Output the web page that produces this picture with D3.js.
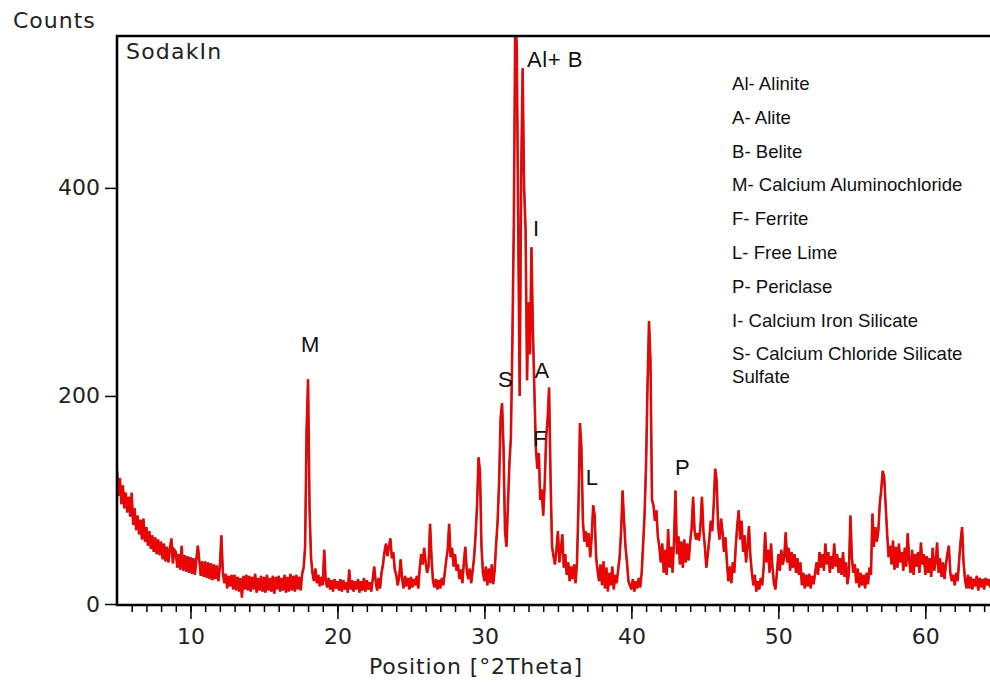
<!DOCTYPE html>
<html>
<head>
<meta charset="utf-8">
<script src="https://cdn.jsdelivr.net/npm/d3@7"></script>
<style>
  html, body { margin: 0; padding: 0; background: #fff; }
  #chart { width: 990px; height: 682px; }
</style>
</head>
<body>
<div id="chart"></div>
<script>
// scan: 5.0 .. 64.4 deg 2theta, 0.1 deg step
const startDeg = 5.0;
const stepDeg = 0.1;
const counts = [
  128,104,121,96,114,92,107,88,103,84,
  107,76,92,71,85,67,81,62,82,60,
  74,56,70,53,66,50,64,48,62,47,
  60,43,58,41,55,40,53,63,39,52,
  50,35,48,33,56,32,47,31,46,30,
  45,29,44,28,43,56,42,27,41,26,
  41,25,40,24,39,23,38,24,37,22,
  36,66,31,20,29,15,27,17,28,14,
  28,13,26,12,25,6,27,14,28,13,
  27,12,26,14,29,11,25,13,27,12,
  26,11,28,13,25,12,27,10,26,14,
  27,12,25,13,28,11,26,12,29,13,
  27,12,28,14,26,13,29,35,55,167,
  216,92,45,30,22,34,20,28,17,26,
  18,52,22,16,25,14,23,12,24,15,
  22,13,24,12,23,14,21,11,33,14,
  23,12,22,14,24,11,22,13,25,12,
  23,14,21,12,24,36,22,13,25,15,
  30,38,50,58,46,55,63,44,50,33,
  28,18,26,43,24,15,27,17,25,14,
  26,16,24,18,27,15,35,48,38,54,
  40,30,36,77,45,22,16,24,14,23,
  15,25,18,30,42,52,77,45,54,36,
  48,32,38,24,33,20,40,55,32,24,
  34,20,32,45,67,95,141,127,55,30,
  22,36,18,34,20,38,19,33,58,80,
  118,178,193,150,70,55,95,135,160,250,
  365,565,536,363,200,410,515,400,360,215,
  290,240,343,262,205,150,130,145,100,110,
  85,115,160,178,208,120,55,46,38,52,
  70,40,52,67,35,48,28,40,22,36,
  24,38,20,40,95,174,150,80,60,70,
  55,68,45,65,95,85,45,32,22,38,
  18,41,15,35,12,30,18,36,14,28,
  20,33,45,70,109,80,55,40,22,18,
  14,24,12,22,15,25,16,30,58,87,
  135,212,272,232,100,95,80,90,65,55,
  40,58,30,52,28,72,35,55,30,60,
  109,48,65,38,60,35,62,40,58,42,
  60,73,103,70,62,68,61,75,103,70,
  55,35,48,62,80,70,95,130,119,75,
  62,82,69,50,64,40,22,36,20,40,
  30,55,75,90,62,80,50,66,40,55,
  75,45,30,18,28,12,22,14,25,18,
  35,69,40,52,30,58,35,20,14,30,
  48,32,52,38,45,69,40,54,32,50,
  35,48,30,44,28,40,18,30,15,28,
  17,29,15,27,19,30,40,28,50,35,
  48,32,58,38,50,30,46,34,58,36,
  48,30,44,28,50,26,40,19,30,85,
  45,30,38,20,34,16,30,18,28,15,
  30,19,35,28,87,55,74,60,70,96,
  110,128,122,95,68,45,56,38,61,33,
  55,35,58,40,50,32,54,36,68,42,
  30,52,28,48,36,50,30,59,38,48,
  28,46,30,44,26,54,32,40,59,30,
  44,26,40,24,38,48,56,30,22,28,
  18,30,22,42,60,74,40,24,15,28,
  15,26,14,24,17,27,13,25,16,24,
  14,25,18,24,16
];

const xMajorTicks = [10, 20, 30, 40, 50, 60];
const yTicks = [0, 200, 400];

const peakNames = ['Al+ B', 'I', 'S', 'A', 'M', 'F', 'L', 'P'];
const peakDeg   = [32.89, 33.3, 30.92, 33.4, 17.52, 33.3, 36.9, 42.96];
const peakCount = [516, 354, 209, 217, 242, 152, 114, 124];

const legendLines = [
  'Al- Alinite',
  'A- Alite',
  'B- Belite',
  'M- Calcium Aluminochloride',
  'F- Ferrite',
  'L- Free Lime',
  'P- Periclase',
  'I- Calcium Iron Silicate',
  'S- Calcium Chloride Silicate'
];

const W = 990, H = 682;
const plot = { left: 117, top: 36, right: 990, bottom: 604 };

const svg = d3.select('#chart').append('svg')
  .attr('width', W)
  .attr('height', H)
  .style('display', 'block');

const x = d3.scaleLinear().domain([5, 64.4]).range([plot.left, plot.right]);
const y = d3.scaleLinear().domain([0, 546]).range([plot.bottom, plot.top]);

const axisFont = '"DejaVu Sans", sans-serif';
const labelFont = '"Liberation Sans", Arial, sans-serif';

svg.append('defs').append('clipPath').attr('id', 'clip')
  .append('rect')
  .attr('x', plot.left)
  .attr('y', plot.top)
  .attr('width', plot.right - plot.left)
  .attr('height', plot.bottom - plot.top);

// pattern: dark edge under a red core
const line = d3.line()
  .x((d, i) => x(startDeg + i * stepDeg))
  .y(d => y(d));

const pattern = svg.append('g').attr('clip-path', 'url(#clip)');
pattern.append('path')
  .datum(counts)
  .attr('fill', 'none')
  .attr('stroke', '#b02828')
  .attr('stroke-width', 2.6)
  .attr('stroke-linejoin', 'miter')
  .attr('d', line);
pattern.append('path')
  .datum(counts)
  .attr('fill', 'none')
  .attr('stroke', '#f20000')
  .attr('stroke-width', 1.6)
  .attr('stroke-linejoin', 'miter')
  .attr('d', line);

// x axis with 1 deg minor ticks
const xAxisG = svg.append('g').attr('transform', `translate(0,${plot.bottom + 1})`);
xAxisG.call(d3.axisBottom(x).tickValues(d3.range(6, 65, 1)).tickSize(7).tickFormat(''))
  .call(g => g.select('.domain').remove());
xAxisG.append('g')
  .call(d3.axisBottom(x).tickValues(xMajorTicks).tickSize(14).tickPadding(9).tickFormat(d3.format('d')))
  .call(g => g.select('.domain').remove())
  .call(g => g.selectAll('text')
    .attr('font-family', axisFont)
    .attr('font-size', 22)
    .attr('fill', '#222'));
xAxisG.selectAll('line').attr('stroke', '#000').attr('stroke-width', 1.5);

// y axis
const yAxisG = svg.append('g').attr('transform', `translate(${plot.left},0)`);
yAxisG.call(d3.axisLeft(y).tickValues(yTicks).tickSize(12).tickPadding(5).tickFormat(d3.format('d')))
  .call(g => g.select('.domain').remove())
  .call(g => g.selectAll('line').attr('stroke', '#000').attr('stroke-width', 1.5))
  .call(g => g.selectAll('text')
    .attr('font-family', axisFont)
    .attr('font-size', 22)
    .attr('fill', '#222'));

// frame: left, top, bottom
svg.append('path')
  .attr('d', `M${plot.right + 5},${plot.top} H${plot.left} V${plot.bottom + 1} H${plot.right + 5}`)
  .attr('fill', 'none')
  .attr('stroke', '#000')
  .attr('stroke-width', 2.6);

// titles
svg.append('text')
  .attr('x', 13).attr('y', 28)
  .attr('font-family', axisFont).attr('font-size', 22)
  .attr('letter-spacing', 1)
  .attr('fill', '#222')
  .text('Counts');

svg.append('text')
  .attr('x', 476).attr('y', 674)
  .attr('text-anchor', 'middle')
  .attr('font-family', axisFont).attr('font-size', 22)
  .attr('letter-spacing', 0.9)
  .attr('fill', '#222')
  .text('Position [°2Theta]');

svg.append('text')
  .attr('x', 126).attr('y', 59)
  .attr('font-family', axisFont).attr('font-size', 22)
  .attr('letter-spacing', 1.2)
  .attr('fill', '#222')
  .text('SodakIn');

// phase labels on peaks
svg.append('g').selectAll('text')
  .data(peakNames)
  .join('text')
  .attr('x', (d, i) => x(peakDeg[i]))
  .attr('y', (d, i) => y(peakCount[i]))
  .attr('font-family', labelFont)
  .attr('font-size', 22)
  .attr('letter-spacing', 0.6)
  .attr('fill', '#111')
  .text(d => d);

// legend
const legend = svg.append('g')
  .attr('font-family', labelFont)
  .attr('font-size', 18.6)
  .attr('fill', '#111');
legend.selectAll('text')
  .data(legendLines)
  .join('text')
  .attr('x', 732)
  .attr('y', (d, i) => 90 + i * 33.8)
  .text(d => d);
legend.append('text')
  .attr('x', 732)
  .attr('y', 90 + 8 * 33.8 + 22.5)
  .text('Sulfate');
</script>
</body>
</html>
